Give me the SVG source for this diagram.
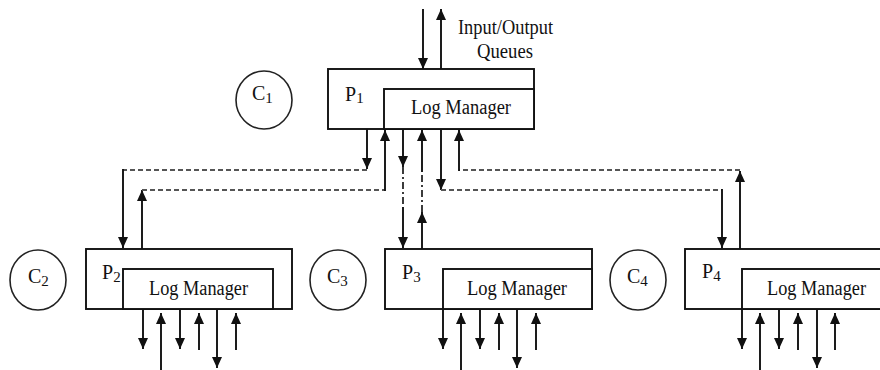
<svg xmlns="http://www.w3.org/2000/svg" width="880" height="370" viewBox="0 0 880 370">
<style>
.box{fill:#fff;stroke:#111;stroke-width:1.9}
.circ{fill:#fff;stroke:#222;stroke-width:1.6}
.t{font-family:"Liberation Serif","Times New Roman",serif;font-size:20px;fill:#111}
.sub{font-size:15px}
.ln{stroke:#111;stroke-width:1.9;fill:none}
.arr{stroke:#111;stroke-width:1.9;fill:none;marker-end:url(#ah)}
.dash{stroke:#555;stroke-width:2;fill:none;stroke-dasharray:5 3}
.dd{stroke:#333;stroke-width:1.9;fill:none;stroke-dasharray:7 3 2 3}
</style>
<defs>
<marker id="ah" markerUnits="userSpaceOnUse" viewBox="0 0 11 10" refX="11" refY="5" markerWidth="11" markerHeight="10" orient="auto">
<path d="M0,0 L11,5 L0,10 z" fill="#111"/>
</marker>
</defs>
<rect width="880" height="370" fill="#fff"/>

<g id="node-C1"><ellipse class="circ" cx="264" cy="100" rx="28" ry="29"/><text class="t" x="252" y="100">C<tspan class="sub" dy="3">1</tspan></text></g>
<g id="node-C2"><ellipse class="circ" cx="38" cy="280" rx="28" ry="30"/><text class="t" x="28" y="283">C<tspan class="sub" dy="3">2</tspan></text></g>
<g id="node-C3"><ellipse class="circ" cx="338" cy="280" rx="28" ry="30"/><text class="t" x="327" y="283">C<tspan class="sub" dy="3">3</tspan></text></g>
<g id="node-C4"><ellipse class="circ" cx="638" cy="280" rx="28" ry="30"/><text class="t" x="627" y="283">C<tspan class="sub" dy="3">4</tspan></text></g>

<g id="node-P1">
<rect class="box" x="328" y="69" width="206" height="60"/>
<rect class="box" x="384" y="89" width="150" height="40"/>
<text class="t" x="345" y="101">P<tspan class="sub" dy="2">1</tspan></text>
<text class="t" x="411" y="114" textLength="100" lengthAdjust="spacingAndGlyphs">Log Manager</text>
</g>
<g id="node-P2">
<rect class="box" x="86" y="249" width="206" height="60"/>
<rect class="box" x="123" y="269" width="150" height="40"/>
<text class="t" x="102" y="279">P<tspan class="sub" dy="3">2</tspan></text>
<text class="t" x="149" y="295" textLength="99" lengthAdjust="spacingAndGlyphs">Log Manager</text>
</g>
<g id="node-P3">
<rect class="box" x="385" y="249" width="207" height="60"/>
<rect class="box" x="443" y="269" width="149" height="40"/>
<text class="t" x="402" y="279">P<tspan class="sub" dy="3">3</tspan></text>
<text class="t" x="467" y="295" textLength="100" lengthAdjust="spacingAndGlyphs">Log Manager</text>
</g>
<g id="node-P4">
<rect class="box" x="685" y="249" width="210" height="60"/>
<rect class="box" x="742" y="269" width="153" height="40"/>
<text class="t" x="702" y="278">P<tspan class="sub" dy="3">4</tspan></text>
<text class="t" x="767" y="295" textLength="99" lengthAdjust="spacingAndGlyphs">Log Manager</text>
</g>

<g id="label-io">
<text class="t" x="458" y="34" textLength="95" lengthAdjust="spacingAndGlyphs">Input/Output</text>
<text class="t" x="477" y="58" textLength="56" lengthAdjust="spacingAndGlyphs">Queues</text>
</g>

<g id="connectors">
<line class="arr" x1="423" y1="9" x2="423" y2="69"/>
<line class="arr" x1="441" y1="69" x2="441" y2="9"/>

<line class="arr" x1="367" y1="129" x2="367" y2="169"/>
<line class="dash" x1="367" y1="170" x2="123" y2="170"/>
<line class="arr" x1="123" y1="169" x2="123" y2="248"/>

<line class="arr" x1="142" y1="249" x2="142" y2="190"/>
<line class="dash" x1="142" y1="190" x2="385" y2="190"/>
<line class="arr" x1="385" y1="191" x2="385" y2="130"/>

<line class="arr" x1="403" y1="129" x2="403" y2="167"/>
<line class="dd" x1="403" y1="167" x2="403" y2="207"/>
<line class="arr" x1="403" y1="207" x2="403" y2="248"/>

<line class="arr" x1="422" y1="249" x2="422" y2="212"/>
<line class="dd" x1="422" y1="212" x2="422" y2="172"/>
<line class="arr" x1="422" y1="172" x2="422" y2="130"/>

<line class="arr" x1="441" y1="129" x2="441" y2="190"/>
<line class="dash" x1="441" y1="190" x2="722" y2="190"/>
<line class="arr" x1="722" y1="189" x2="722" y2="248"/>

<line class="arr" x1="740" y1="249" x2="740" y2="171"/>
<line class="dash" x1="740" y1="170" x2="459" y2="170"/>
<line class="arr" x1="459" y1="171" x2="459" y2="130"/>

<line class="arr" x1="143" y1="309" x2="143" y2="349"/>
<line class="arr" x1="161" y1="370" x2="161" y2="313"/>
<line class="arr" x1="180" y1="309" x2="180" y2="349"/>
<line class="arr" x1="199" y1="350" x2="199" y2="313"/>
<line class="arr" x1="217" y1="309" x2="217" y2="368"/>
<line class="arr" x1="236" y1="350" x2="236" y2="313"/>

<line class="arr" x1="443" y1="309" x2="443" y2="349"/>
<line class="arr" x1="461" y1="370" x2="461" y2="313"/>
<line class="arr" x1="480" y1="309" x2="480" y2="349"/>
<line class="arr" x1="499" y1="350" x2="499" y2="313"/>
<line class="arr" x1="517" y1="309" x2="517" y2="368"/>
<line class="arr" x1="536" y1="350" x2="536" y2="313"/>

<line class="arr" x1="742" y1="309" x2="742" y2="349"/>
<line class="arr" x1="760" y1="370" x2="760" y2="313"/>
<line class="arr" x1="779" y1="309" x2="779" y2="349"/>
<line class="arr" x1="798" y1="350" x2="798" y2="313"/>
<line class="arr" x1="817" y1="309" x2="817" y2="368"/>
<line class="arr" x1="835" y1="350" x2="835" y2="313"/>
</g>
</svg>
